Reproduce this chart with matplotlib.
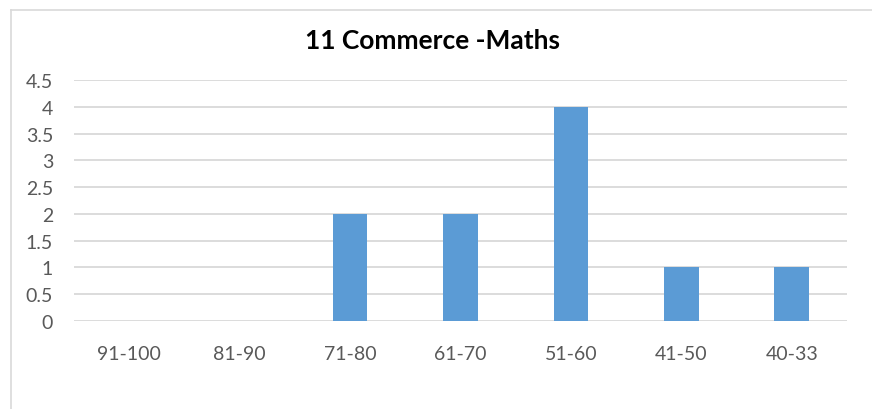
import matplotlib
matplotlib.use("Agg")
import matplotlib.pyplot as plt
from matplotlib.lines import Line2D

categories = ["91-100", "81-90", "71-80", "61-70", "51-60", "41-50", "40-33"]
values = [0, 0, 2, 2, 4, 1, 1]
yticks = [0, 0.5, 1, 1.5, 2, 2.5, 3, 3.5, 4, 4.5]
ytick_labels = ["0", "0.5", "1", "1.5", "2", "2.5", "3", "3.5", "4", "4.5"]
title = "11 Commerce -Maths"

plt.rcParams['font.family'] = ['Lato', 'DejaVu Sans']

W, H = 872, 410
fig = plt.figure(figsize=(W / 100, H / 100), dpi=100)
ax = fig.add_axes([74 / W, (H - 322) / H, (847 - 74) / W, (322 - 81) / H])

x = list(range(len(categories)))
ax.bar(x, values, width=0.315, color="#5b9bd5", zorder=3)
ax.set_xlim(-0.5, len(categories) - 0.5)
ax.set_ylim(0, 4.5)
ax.set_yticks(yticks)
ax.set_yticklabels(ytick_labels)
ax.set_xticks(x)
ax.set_xticklabels(categories)
ax.grid(axis="y", color="#d9d9d9", linewidth=1.3, zorder=0)
for s in ax.spines.values():
    s.set_visible(False)
ax.tick_params(axis="both", length=0, labelsize=14, labelcolor="#595959")
ax.tick_params(axis="y", pad=15)
ax.tick_params(axis="x", pad=17)

fig.text(432 / W, 1 - 41 / H, title, ha="center", va="center",
         fontsize=19, fontweight="bold", color="#000000")

# chart border (left and top visible)
fig.add_artist(Line2D([11 / W, 11 / W], [0, 1 - 11 / H], transform=fig.transFigure,
                      color="#d9d9d9", linewidth=1.2))
fig.add_artist(Line2D([11 / W, 1], [1 - 11 / H, 1 - 11 / H], transform=fig.transFigure,
                      color="#d9d9d9", linewidth=1.2))

fig.savefig("out.png", dpi=100)
